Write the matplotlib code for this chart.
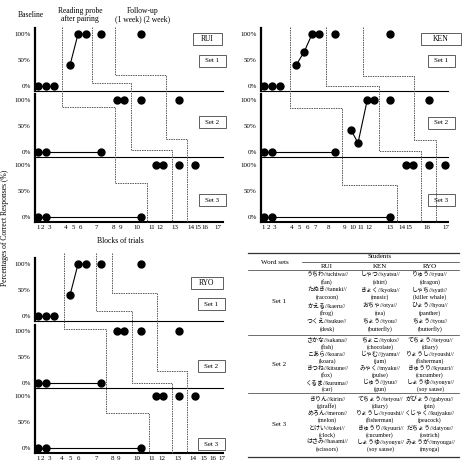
import matplotlib
matplotlib.use('Agg')
import matplotlib.pyplot as plt
from matplotlib.lines import Line2D
from matplotlib.patches import Rectangle

W, H = 469, 470
SERIF = ['Liberation Serif', 'DejaVu Serif']
JP = ['Liberation Serif', 'Noto Sans CJK JP']

# ---------------- data ----------------
# x = position of the block on the time axis, y = % correct, one list per word set
rui_x = [[1, 2, 3, 5, 6, 7, 8.9, 13.9],
         [1, 2, 8.9, 10.9, 11.75, 13.9, 18.6],
         [1, 2, 13.9, 15.75, 16.6, 18.6, 20.6]]
rui_y = [[0, 0, 0, 40, 100, 100, 100, 100],
         [0, 0, 0, 100, 100, 100, 100],
         [0, 0, 0, 100, 100, 100, 100]]
rui_runs = [[3, 3, 1, 1], [3, 2, 1, 1], [3, 2, 1, 1]]   # points per connected run

ken_x = [[1, 2, 3, 5, 6, 7, 7.9, 9.9, 16.75],
         [1, 2, 9.9, 11.9, 12.75, 13.9, 14.75, 16.75, 21.6],
         [1, 2, 16.75, 18.75, 19.6, 21.6, 23.6]]
ken_y = [[0, 0, 0, 40, 65, 100, 100, 100, 100],
         [0, 0, 0, 42, 17, 100, 100, 100, 100],
         [0, 0, 0, 100, 100, 100, 100]]
ken_runs = [[3, 4, 1, 1], [3, 4, 1, 1], [3, 2, 1, 1]]

ryo_x = [[1, 2, 3, 5, 6, 7, 8.9, 13.9],
         [1, 2, 8.9, 10.9, 11.75, 13.9, 18.6],
         [1, 2, 13.9, 15.75, 16.6, 18.6, 20.6]]
ryo_y = [[0, 0, 0, 40, 100, 100, 100, 100],
         [0, 0, 0, 100, 100, 100, 100],
         [0, 0, 0, 100, 100, 100, 100]]
ryo_runs = [[3, 3, 1, 1], [3, 2, 1, 1], [3, 2, 1, 1]]

block_labels = [str(i) for i in range(1, 18)]
rui_ticks = [1.0, 1.6, 2.4, 4.4, 5.4, 6.25, 8.25, 10.4, 11.25, 13.4, 15.25, 16.25, 18.1, 20.1, 21.0, 21.9, 23.5]
ken_ticks = [0.875, 1.5, 2.25, 4.5, 5.4, 6.4, 7.4, 9.1, 11.1, 12.1, 13.1, 14.1, 16.75, 18.25, 19.1, 21.4, 23.75]
ryo_ticks = [1.0, 1.6, 2.4, 4.0, 5.0, 6.0, 8.25, 10.25, 11.1, 13.4, 15.25, 16.5, 18.5, 20.4, 21.75, 22.9, 24.05]

# phase change lines: x in set 1/2/3, and the two steps as (set index, level %)
rui_phases = [([4, 10.6, 14.6], [(1, 87), (2, 66)]),
              ([7.75, 12.6, 17.75], [(0, 5), (1, 3.5)]),
              ([10.6, 17, 19.6], [(0, 21), (1, 25)])]
ken_phases = [([4.25, 10.75, 17.6], [(1, 85), (2, 62)]),
              ([8.75, 15.4, 20.6], [(0, 0), (1, 1.5)]),
              ([13.4, 19.75, 22.5], [(0, 19), (1, 23)])]
ryo_phases = [([4.25, 9.5, 14.9], [(1, 104), (2, 67)]),
              ([8.25, 12.75, 17.75], [(0, 9), (1, 0)]),
              ([10.25, 15.9, 19.6], [(0, 44), (1, 23)])]

students = ['RUI', 'KEN', 'RYO']
word_sets = ['Set 1', 'Set 2', 'Set 3']
words = {
    'RUI': [['うちわ//uchiwa//', '(fan)', 'たぬき//tanuki//', '(raccoon)', 'かえる//kaeru//', '(frog)', 'つくえ//tsukue//', '(desk)'],
            ['さかな//sakana//', '(fish)', 'こあら//koara//', '(koara)', 'きつね//kitsune//', '(fox)', 'くるま//kuruma//', '(car)'],
            ['きりん//kirin//', '(giraffe)', 'めろん//meron//', '(melon)', 'とけい//tokei//', '(clock)', 'はさみ//hasami//', '(scissors)']],
    'KEN': [['しゃつ//syatsu//', '(shirt)', 'きょく//kyoku//', '(music)', 'おちゃ//otya//', '(tea)', 'ちょう//tyou//', '(butterfly)'],
            ['ちょこ//tyoko//', '(chocolate)', 'じゃむ//jyamu//', '(jam)', 'みゃく//myaku//', '(pulse)', 'じゅう//jyuu//', '(gun)'],
            ['てちょう//tetyou//', '(diary)', 'りょうし//ryoushi//', '(fisherman)', 'きゅうり//kyuuri//', '(cucumber)', 'しょうゆ//syouyu//', '(soy sause)']],
    'RYO': [['りゅう//ryuu//', '(dragon)', 'しゃち//syati//', '(killer whale)', 'ひょう//hyou//', '(panther)', 'ちょう//tyou//', '(butterfly)'],
            ['てちょう//tetyou//', '(diary)', 'りょうし//ryoushi//', '(fisherman)', 'きゅうり//kyuuri//', '(cucumber)', 'しょうゆ//syouyu//', '(soy sause)'],
            ['がびょう//gabyou//', '(pin)', 'くじゃく//kujyaku//', '(peacock)', 'だちょう//datyou//', '(ostrich)', 'みょうが//myouga//', '(myoga)']],
}

# ---------------- drawing ----------------
fig = plt.figure(figsize=(W / 100, H / 100), dpi=100)


def fx(px):
    return px / W


def fy(py):
    return 1 - py / H


def box(cx, cy, w, h, text, size):
    fig.add_artist(Rectangle((fx(cx - w / 2), fy(cy + h / 2)), w / W, h / H,
                             transform=fig.transFigure, fill=False, lw=0.6, ec='#444'))
    fig.text(fx(cx), fy(cy), text, ha='center', va='center', fontsize=size, family=SERIF)


def panel(left, right, bottoms, xs, ys, runs, ticks, phases, top_level, show_ticks=True):
    axes = []
    for k in range(3):
        b = bottoms[k]
        ax = fig.add_axes([fx(left), fy(b), (right - left) / W, 63 / H])
        ax.set_xlim(0.625, 0.625 + (right - left) / 8)
        ax.set_ylim(-10, 112)
        for s in ['top', 'right']:
            ax.spines[s].set_visible(False)
        ax.spines['left'].set_linewidth(1.6)
        ax.spines['bottom'].set_linewidth(1.5 if k == 2 else 0.8)
        ax.set_yticks([0, 50, 100], ['0%', '50%', '100%'])
        ax.tick_params(length=0, labelsize=5, pad=3)
        for lab in ax.get_yticklabels():
            lab.set_family(SERIF)
        if k == 2:
            ax.set_xticks(ticks, block_labels)
            ax.tick_params(axis='x', pad=2)
            for lab in ax.get_xticklabels():
                lab.set_family(SERIF)
        else:
            ax.set_xticks([])
        i = 0
        for n in runs[k]:
            ax.plot(xs[k][i:i + n], ys[k][i:i + n], '-o', color='black', lw=0.8,
                    ms=5, clip_on=False, zorder=3)
            i += n
        ax.patch.set_visible(False)
        axes.append(ax)

    to_fig = fig.transFigure.inverted()
    for pxs, steps in phases:
        (s1, l1), (s2, l2) = steps
        pts = [(0, pxs[0], top_level), (s1, pxs[0], l1), (s1, pxs[1], l1),
               (s2, pxs[1], l2), (s2, pxs[2], l2), (2, pxs[2], -10)]
        fp = [to_fig.transform(axes[s].transData.transform((x, y))) for s, x, y in pts]
        fig.add_artist(Line2D([p[0] for p in fp], [p[1] for p in fp], transform=fig.transFigure,
                              color='#555', lw=0.7, ls=(0, (1.5, 1))))
    return axes


panel(35, 223, [91, 157, 222], rui_x, rui_y, rui_runs, rui_ticks, rui_phases, 114)
panel(261, 448, [91, 157, 222], ken_x, ken_y, ken_runs, ken_ticks, ken_phases, 114)
panel(35, 223, [321, 388, 453], ryo_x, ryo_y, ryo_runs, ryo_ticks, ryo_phases, 121)

# phase headers (RUI only)
fig.text(fx(31), fy(15), 'Baseline', ha='center', va='center', fontsize=5.5, family=SERIF)
fig.text(fx(80), fy(15), 'Reading probe\nafter pairing', ha='center', va='center',
         fontsize=5.5, family=SERIF, linespacing=1.1)
fig.text(fx(143), fy(15), 'Follow-up\n(1 week) (2 week)', ha='center', va='center',
         fontsize=5.5, family=SERIF, linespacing=1.1)
fig.text(fx(120), fy(241), 'Blocks of trials', ha='center', va='center', fontsize=5.5, family=SERIF)
fig.text(fx(5), fy(228), 'Percentages of Correct Responses (%)', ha='center', va='center',
         rotation=90, fontsize=5.5, family=SERIF)

# name and set boxes
box(207, 39, 29, 12, 'RUI', 5.5)
box(441, 39, 40, 12, 'KEN', 5.5)
box(207, 283, 32, 12, 'RYO', 5.5)
for cx, ys_ in [(212, [61, 122, 200]), (441, [61, 123, 200]), (211, [304, 366, 444])]:
    for name, cy in zip(word_sets, ys_):
        box(cx, cy, 27, 12, name, 5)

# ---------------- word table ----------------
def rule(y, x0=248, x1=459, lw=0.5):
    fig.add_artist(Line2D([fx(x0), fx(x1)], [fy(y), fy(y)], transform=fig.transFigure,
                          color='#333', lw=lw))


rule(253, lw=0.9)
rule(262, x0=302)
rule(270)
rule(335)
rule(393)
rule(457, lw=0.9)

fig.text(fx(275), fy(262), 'Word sets', ha='center', va='center', fontsize=5, family=SERIF)
fig.text(fx(380), fy(257), 'Students', ha='center', va='center', fontsize=5, family=SERIF)
col_x = [327, 380, 430]
for cx, name in zip(col_x, students):
    fig.text(fx(cx), fy(266), name, ha='center', va='center', fontsize=5, family=SERIF)

blocks = [(274, 329), (340, 389), (399, 449)]
for k, (y0, y1) in enumerate(blocks):
    fig.text(fx(279), fy((y0 + y1) / 2), word_sets[k], ha='center', va='center',
             fontsize=5, family=SERIF)
    step = (y1 - y0) / 7
    for cx, name in zip(col_x, students):
        for j, line in enumerate(words[name][k]):
            fig.text(fx(cx), fy(y0 + j * step), line, ha='center', va='center',
                     fontsize=4.3, family=JP)

fig.savefig('out.png', dpi=100)
